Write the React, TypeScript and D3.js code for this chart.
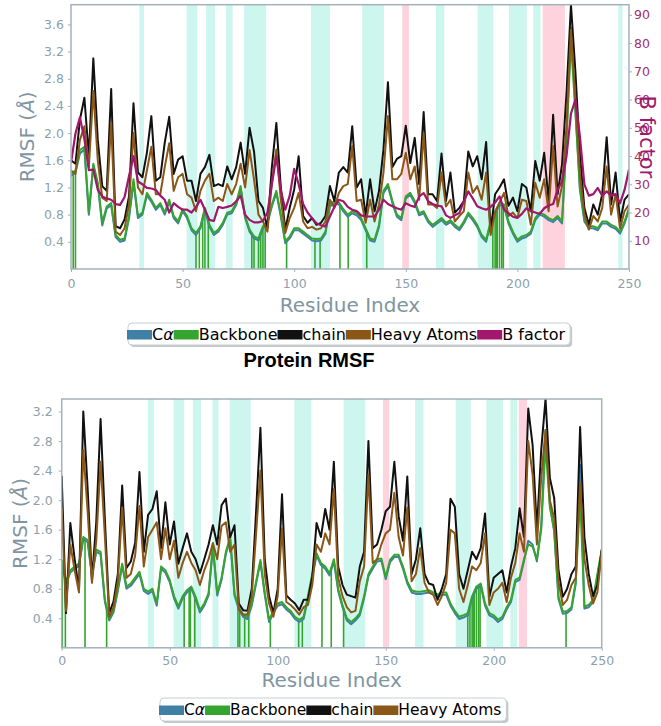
import React, { useEffect, useRef } from "react";
import * as d3 from "d3";

// residue positions of the sampled values (every 2nd residue)
const RESIDUES: number[] = d3.range(0, 251, 2);

// ---------- TOP PANEL ----------
const TOP_CA = [
  1.37,1.42,1.70,1.76,0.80,1.52,1.24,0.64,0.89,0.94,
  0.47,0.40,0.42,0.75,1.28,0.75,0.80,1.08,0.99,0.87,
  0.94,0.80,0.99,0.75,0.67,0.85,0.75,0.57,0.50,0.60,
  0.87,0.62,0.50,0.55,0.65,0.80,0.82,0.94,1.19,0.75,
  0.55,0.45,0.42,0.60,0.67,0.92,1.12,0.77,0.38,0.45,
  0.57,0.57,0.52,0.47,0.42,0.41,0.42,0.52,0.92,0.97,
  0.95,0.85,0.77,0.82,0.79,0.72,0.57,0.42,0.40,0.62,
  1.12,1.22,0.97,0.77,0.72,1.04,1.09,0.97,0.79,0.82,
  0.69,0.62,0.67,0.72,0.65,0.69,0.62,0.57,0.67,0.80,
  0.72,0.62,0.47,0.40,0.67,0.82,0.94,0.92,0.67,0.52,
  0.40,0.45,0.47,0.52,0.72,0.80,0.77,0.72,0.69,0.75,
  0.67,1.95,3.55,2.35,1.17,0.70,0.60,0.60,0.57,0.67,
  0.67,0.62,0.59,0.52,0.67,0.87,
];
const TOP_BACKBONE = [
  1.40,1.45,1.75,1.80,0.83,1.55,1.27,0.68,0.92,0.97,
  0.50,0.43,0.45,0.78,1.32,0.78,0.83,1.12,1.02,0.90,
  0.97,0.83,1.02,0.78,0.70,0.88,0.78,0.60,0.53,0.63,
  0.90,0.65,0.53,0.58,0.68,0.83,0.85,0.97,1.22,0.78,
  0.58,0.48,0.45,0.63,0.70,0.95,1.15,0.80,0.41,0.48,
  0.60,0.60,0.55,0.50,0.45,0.44,0.45,0.55,0.95,1.00,
  0.98,0.88,0.80,0.85,0.82,0.75,0.60,0.45,0.43,0.65,
  1.15,1.25,1.00,0.80,0.75,1.07,1.12,1.00,0.82,0.85,
  0.72,0.65,0.70,0.75,0.68,0.72,0.65,0.60,0.70,0.83,
  0.75,0.65,0.50,0.43,0.70,0.85,0.97,0.95,0.70,0.55,
  0.43,0.48,0.50,0.55,0.75,0.83,0.80,0.75,0.72,0.78,
  0.70,1.90,3.35,2.30,1.20,0.73,0.63,0.63,0.60,0.70,
  0.70,0.65,0.62,0.55,0.70,0.90,
];
const TOP_CHAIN = [
  1.60,1.55,2.20,2.52,1.66,3.10,1.90,1.22,1.15,2.65,
  0.63,0.60,0.73,1.07,2.44,1.42,1.35,1.71,2.25,1.30,
  1.35,1.86,2.24,1.40,1.61,1.66,1.30,1.30,1.00,1.40,
  1.50,1.68,1.22,1.25,1.22,1.51,1.32,1.50,1.86,1.40,
  2.08,1.73,1.00,0.90,0.60,1.50,2.15,1.20,0.58,0.90,
  1.17,1.66,0.78,0.68,0.75,0.65,0.68,0.78,1.22,1.00,
  1.42,1.50,1.42,2.10,1.20,1.32,0.78,1.32,0.85,1.15,
  1.76,2.75,1.50,1.62,1.66,2.11,1.56,1.93,1.25,2.31,
  1.10,1.10,1.00,1.70,1.00,1.42,0.83,0.90,1.00,1.73,
  1.51,1.66,1.32,1.87,0.55,1.10,1.20,1.32,0.93,1.05,
  0.85,1.25,1.20,0.85,1.59,1.30,1.71,1.00,2.27,1.10,
  1.54,2.59,3.89,2.90,1.70,0.90,0.65,0.95,0.80,1.10,
  1.94,0.95,1.42,0.70,1.02,1.10,
];
const TOP_HEAVY = [
  1.45,1.40,1.90,2.10,1.50,2.62,1.60,1.05,1.00,2.15,
  0.55,0.50,0.60,0.95,2.00,1.20,1.10,1.45,1.80,1.10,
  1.10,1.50,1.85,1.15,1.35,1.40,1.10,1.05,0.85,1.15,
  1.30,1.40,1.00,1.05,1.00,1.25,1.10,1.25,1.55,1.20,
  1.75,1.32,0.80,0.70,0.55,1.27,1.76,1.02,0.53,0.75,
  0.90,1.12,0.70,0.60,0.62,0.58,0.60,0.70,1.02,0.90,
  1.12,1.22,1.25,1.81,1.00,1.02,0.68,1.02,0.70,0.95,
  1.42,2.25,1.32,1.32,1.40,1.71,1.32,1.51,1.02,2.00,
  0.95,0.95,0.90,1.42,0.92,1.02,0.70,0.78,0.85,1.42,
  1.12,1.22,1.02,1.42,0.50,0.83,0.98,1.12,0.78,0.83,
  0.75,1.02,1.00,0.65,1.27,1.05,1.32,0.85,1.81,0.92,
  1.22,2.10,3.52,2.50,1.40,0.80,0.58,0.78,0.70,0.90,
  1.51,0.80,1.10,0.60,0.85,0.95,
];
const TOP_BFACTOR = [
  37.6,48,53.7,46,35,35.2,28.1,25.7,25,24.5,
  23,22.7,25.5,32.9,40,31,30,28.7,28.5,28,
  26,24.5,20,23.3,22,21,21,20,22,24.5,
  21,17.4,17,22,21.6,22,22.5,24,26,19.2,
  17.4,16.5,16.5,17,20,30,40,28,21,26,
  35.5,30,23,20,18,16.2,15.5,15,18.6,22,
  24.5,24,22,21,20.5,19,18.6,18.6,18.6,21,
  24.5,23,22.2,21.5,21,23.3,22.5,22,25.7,26.9,
  24,23,22.5,22.2,19,18.1,19,19.8,24,27.5,
  25,22.2,21.5,21,22,23.5,25.7,21,19.8,18.5,
  18.1,19.5,21.5,20.5,20,19.5,21.5,22.5,23,28.1,
  31,40,55,60,47,30,26,26.5,28.7,26,
  27.5,26,26.5,23.3,28,35.2,
];
const TOP_CYAN: [number, number][] = [
  [30.6, 32.7], [51.8, 56.6], [60.5, 64.6], [69.4, 72.4], [77.6, 87.4],
  [107.5, 116], [130.5, 140.2], [163.5, 167.3], [182.2, 189.2],
  [196.2, 204.2], [207.1, 210.4], [245.2, 247.1],
];
const TOP_PINK: [number, number][] = [[148.4, 151.4], [211.3, 221.3]];
const TOP_CONTACTS = [1, 2, 56, 57.5, 59, 60, 61.5, 81, 82, 84, 85, 86, 87, 96.6, 109.3, 111.6, 120.5, 124.2, 132.5, 189, 190, 190.5, 191, 192, 193, 193.7];

// ---------- BOTTOM PANEL ----------
const BOT_CA = [
  1.16,0.87,1.02,1.07,1.11,1.47,1.43,0.97,1.30,1.27,
  0.62,0.37,0.48,0.77,1.11,0.80,0.84,0.92,1.00,0.77,
  0.73,0.77,0.57,1.07,1.02,0.89,0.67,0.53,0.67,0.75,
  0.80,0.66,0.48,0.57,0.71,1.36,0.71,0.92,1.27,1.47,
  0.71,0.52,0.42,0.39,0.57,0.87,1.16,0.72,0.35,0.47,
  0.57,0.59,0.52,0.47,0.39,0.35,0.39,0.67,0.97,1.25,
  1.12,1.07,0.98,1.17,0.77,0.55,0.37,0.32,0.37,0.44,
  0.67,0.97,1.07,1.17,1.18,0.93,1.16,1.23,1.23,1.07,
  0.87,0.75,0.73,0.73,0.74,0.75,0.72,0.69,0.72,0.72,
  0.57,0.47,0.39,0.41,0.44,0.67,0.80,0.84,0.57,0.44,
  0.41,0.35,0.39,0.52,0.62,0.89,0.92,1.17,1.45,1.40,
  1.17,1.65,2.95,1.95,1.57,0.66,0.46,0.47,0.52,0.87,
  2.48,0.53,0.55,0.62,0.97,1.30,
];
const BOT_BACKBONE = [
  1.19,0.90,1.05,1.10,1.14,1.50,1.46,1.00,1.33,1.30,
  0.65,0.40,0.51,0.80,1.14,0.83,0.87,0.95,1.03,0.80,
  0.76,0.80,0.60,1.10,1.05,0.92,0.70,0.56,0.70,0.78,
  0.83,0.69,0.51,0.60,0.74,1.39,0.74,0.95,1.30,1.50,
  0.74,0.55,0.45,0.42,0.60,0.90,1.19,0.75,0.38,0.50,
  0.60,0.62,0.55,0.50,0.42,0.38,0.42,0.70,1.00,1.28,
  1.15,1.10,1.01,1.20,0.80,0.58,0.40,0.35,0.40,0.47,
  0.70,1.00,1.10,1.20,1.21,0.96,1.19,1.26,1.26,1.10,
  0.90,0.78,0.76,0.76,0.77,0.78,0.75,0.72,0.75,0.75,
  0.60,0.50,0.42,0.44,0.47,0.70,0.83,0.87,0.60,0.47,
  0.44,0.38,0.42,0.55,0.65,0.92,0.95,1.20,1.40,1.37,
  1.20,1.60,2.75,1.90,1.60,0.69,0.49,0.50,0.55,0.90,
  2.05,0.56,0.58,0.65,1.00,1.33,
];
const BOT_CHAIN = [
  2.33,0.47,1.69,1.20,0.78,3.20,2.16,0.92,1.70,3.10,
  1.73,0.47,0.63,1.00,2.20,1.08,1.17,1.42,2.38,1.30,
  1.80,1.88,2.12,1.35,1.97,1.40,1.71,1.14,1.35,1.55,
  1.30,1.20,1.01,1.20,1.40,1.66,1.40,1.93,2.02,1.50,
  1.66,0.60,0.51,0.50,0.80,1.85,2.98,1.20,0.70,0.47,
  0.80,2.08,0.71,0.65,0.60,0.51,0.65,0.65,0.96,1.69,
  1.50,1.88,1.60,2.52,1.10,0.85,0.72,0.70,0.68,1.10,
  1.30,2.80,1.35,1.40,1.60,1.85,1.91,2.52,1.78,1.45,
  2.32,1.00,1.20,1.62,1.00,0.87,0.85,0.65,0.80,1.00,
  2.02,1.91,1.00,0.80,1.05,1.30,1.20,1.35,1.82,0.69,
  0.95,1.00,1.05,0.75,1.10,1.35,1.89,1.50,3.24,2.75,
  1.60,2.68,3.37,2.30,2.03,1.05,0.69,0.80,1.00,1.10,
  2.99,1.50,1.00,0.70,0.85,1.33,
];
const BOT_HEAVY = [
  1.90,0.50,1.40,1.05,0.75,2.68,1.85,0.88,1.45,2.52,
  1.50,0.42,0.55,0.90,1.90,0.95,1.00,1.25,1.92,1.10,
  1.50,1.60,1.70,1.20,1.62,1.20,1.45,0.95,1.15,1.30,
  1.15,1.05,0.85,1.05,1.20,1.42,1.20,1.65,1.70,1.30,
  1.40,0.52,0.45,0.45,0.70,1.55,2.40,1.00,0.60,0.42,
  0.70,1.62,0.62,0.58,0.52,0.45,0.55,0.58,0.85,1.40,
  1.30,1.55,1.40,2.15,0.95,0.70,0.55,0.48,0.50,0.90,
  1.10,2.35,1.15,1.20,1.40,1.55,1.60,2.10,1.50,1.25,
  1.90,0.90,1.00,1.35,0.88,0.75,0.72,0.58,0.70,0.88,
  1.60,1.55,0.80,0.62,0.85,1.10,1.05,1.15,1.55,0.58,
  0.75,0.80,0.88,0.62,0.95,1.15,1.55,1.30,2.80,2.35,
  1.40,2.30,2.95,2.00,1.75,0.90,0.58,0.65,0.85,0.95,
  2.23,1.20,0.85,0.60,0.75,1.30,
];
const BOT_CYAN: [number, number][] = [
  [39.9, 42.7], [51.8, 56.7], [60.7, 64.5], [69.8, 72.6], [77.8, 87.5],
  [107.7, 115.6], [130.5, 140.5], [163.6, 167.5], [182.4, 189.4],
  [196.6, 204.3], [207.7, 210.8],
];
const BOT_PINK: [number, number][] = [[148.7, 151.6], [211.6, 215.4]];
const BOT_CONTACTS = [0.3, 1.7, 10.8, 20.8, 56.7, 59, 59.6, 61.6, 81.6, 82.4, 84.7, 86.6, 96.6, 109.7, 111.4, 120.5, 124.8, 130.5, 188, 189, 190, 190.5, 191, 192, 193, 193.7, 233.5];

const X_TICKS = [0, 50, 100, 150, 200, 250];
const TOP_Y_TICKS = [0.4, 0.8, 1.2, 1.6, 2.0, 2.4, 2.8, 3.2, 3.6];
const BOT_Y_TICKS = [0.4, 0.8, 1.2, 1.6, 2.0, 2.4, 2.8, 3.2];
const B_TICKS = [10, 20, 30, 40, 50, 60, 70, 80, 90];

const TITLE = "Protein RMSF";
const LEGEND_TOP = ["Cα", "Backbone", "chain", "Heavy Atoms", "B factor"];
const LEGEND_BOT = ["Cα", "Backbone", "chain", "Heavy Atoms"];

const C_CA = "#3f80a6";
const C_BB = "#36a52f";
const C_CHAIN = "#111111";
const C_HEAVY = "#8a5717";
const C_BF = "#a0176b";
const C_CYAN = "#cdf6ef";
const C_PINK = "#ffd3dd";
const C_AXIS = "#a3b1bb";
const C_TICK = "#8d9fab";
const C_LABEL = "#8095a2";
const FONT = "DejaVu Sans, sans-serif";

type Panel = {
  id: string;
  left: number; right: number; top: number; bottom: number;
  yMax: number;
  yTicks: number[];
  ca: number[]; bb: number[]; chain: number[]; heavy: number[];
  bf?: number[]; bMax?: number;
  cyan: [number, number][]; pink: [number, number][];
  contacts: number[];
  yPad: number; xPad: number;
  yLabelX: number; xLabelY: number;
};

function drawPanel(svg: d3.Selection<SVGSVGElement, unknown, null, undefined>, p: Panel) {
  const x = d3.scaleLinear().domain([0, 250]).range([p.left, p.right]);
  const y = d3.scaleLinear().domain([0, p.yMax]).range([p.bottom, p.top]);
  const g = svg.append("g");

  g.append("clipPath").attr("id", "clip-" + p.id)
    .append("rect").attr("x", p.left).attr("y", p.top)
    .attr("width", p.right - p.left).attr("height", p.bottom - p.top);

  const body = g.append("g").attr("clip-path", `url(#clip-${p.id})`);

  body.selectAll("rect.cyan").data(p.cyan).enter().append("rect")
    .attr("x", d => x(d[0])).attr("width", d => x(d[1]) - x(d[0]))
    .attr("y", p.top).attr("height", p.bottom - p.top).attr("fill", C_CYAN);
  body.selectAll("rect.pink").data(p.pink).enter().append("rect")
    .attr("x", d => x(d[0])).attr("width", d => x(d[1]) - x(d[0]))
    .attr("y", p.top).attr("height", p.bottom - p.top).attr("fill", C_PINK);

  const bbAt = d3.scaleLinear().domain(RESIDUES).range(p.bb);
  body.selectAll("line.contact").data(p.contacts).enter().append("line")
    .attr("x1", d => x(d)).attr("x2", d => x(d))
    .attr("y1", y(0)).attr("y2", d => y(bbAt(d)))
    .attr("stroke", C_BB).attr("stroke-width", 1.6);

  const line = (vals: number[], color: string, w: number) => {
    const gen = d3.line<number>().x((_, i) => x(RESIDUES[i])).y(v => y(v));
    body.append("path").datum(vals).attr("d", gen).attr("fill", "none")
      .attr("stroke", color).attr("stroke-width", w).attr("stroke-linejoin", "round");
  };
  line(p.ca, C_CA, 2);
  line(p.bb, C_BB, 2);
  line(p.chain, C_CHAIN, 2);
  line(p.heavy, C_HEAVY, 2);

  let yb: d3.ScaleLinear<number, number> | null = null;
  if (p.bf && p.bMax) {
    yb = d3.scaleLinear().domain([0, p.bMax]).range([p.bottom, p.top]);
    const gen = d3.line<number>().x((_, i) => x(RESIDUES[i])).y(v => yb!(v));
    body.append("path").datum(p.bf).attr("d", gen).attr("fill", "none")
      .attr("stroke", C_BF).attr("stroke-width", 2.2).attr("stroke-linejoin", "round");
  }

  // frame
  g.append("rect").attr("x", p.left).attr("y", p.top)
    .attr("width", p.right - p.left).attr("height", p.bottom - p.top)
    .attr("fill", "none").attr("stroke", C_AXIS).attr("stroke-width", 1.5);

  const style = (ax: d3.Selection<SVGGElement, unknown, null, undefined>, color: string) => {
    ax.select(".domain").remove();
    ax.selectAll("line").attr("stroke", C_AXIS).attr("stroke-width", 1);
    ax.selectAll("text").attr("fill", color).attr("font-size", 12.5).attr("font-family", FONT);
  };

  const ax = g.append("g").attr("transform", `translate(0,${p.bottom})`)
    .call(d3.axisBottom(x).tickValues(X_TICKS).tickFormat(d3.format("d")).tickSize(3).tickPadding(p.xPad));
  style(ax, C_TICK);
  const ay = g.append("g").attr("transform", `translate(${p.left},0)`)
    .call(d3.axisLeft(y).tickValues(p.yTicks).tickFormat(d3.format(".1f")).tickSize(3).tickPadding(p.yPad));
  style(ay, C_TICK);

  if (yb) {
    const ar = g.append("g").attr("transform", `translate(${p.right},0)`)
      .call(d3.axisRight(yb).tickValues(B_TICKS).tickFormat(d3.format("d")).tickSize(3).tickPadding(2));
    style(ar, "#a2306c");
    g.append("text").attr("transform", `translate(${p.right + 11},${(p.top + p.bottom) / 2}) rotate(90)`)
      .attr("text-anchor", "middle").attr("font-family", FONT).attr("font-size", 21)
      .attr("fill", C_BF).text("B factor");
  }

  // axis labels
  const yl = g.append("text")
    .attr("transform", `translate(${p.yLabelX},${(p.top + p.bottom) / 2}) rotate(-90)`)
    .attr("text-anchor", "middle").attr("font-family", FONT).attr("font-size", 20).attr("fill", C_LABEL);
  yl.append("tspan").text("RMSF (");
  yl.append("tspan").attr("font-style", "italic").text("Å");
  yl.append("tspan").text(")");

  g.append("text").attr("x", (p.left + p.right) / 2).attr("y", p.xLabelY)
    .attr("text-anchor", "middle").attr("font-family", FONT).attr("font-size", 20)
    .attr("fill", C_LABEL).text("Residue Index");
}

function drawLegend(svg: d3.Selection<SVGSVGElement, unknown, null, undefined>,
  labels: string[], colors: string[], x0: number, y0: number, h: number, fs: number) {
  const g = svg.append("g");
  const shadow = g.append("rect");
  const box = g.append("rect");
  let cx = x0 - 1;
  const base = y0 + h / 2 + 5.5;
  labels.forEach((lab, i) => {
    g.append("rect").attr("x", cx).attr("y", base - 9.5).attr("width", 25).attr("height", 9.5)
      .attr("fill", colors[i]);
    cx += 25;
    const t = g.append("text").attr("x", cx).attr("y", base)
      .attr("font-family", FONT).attr("font-size", fs).attr("fill", "#000");
    if (lab === "Cα") {
      t.append("tspan").text("C");
      t.append("tspan").attr("font-style", "italic").text("α");
    } else {
      t.text(lab);
    }
    const w = (t.node() as SVGTextElement).getComputedTextLength();
    cx += w;
  });
  const w = cx + 5 - x0;
  shadow.attr("x", x0 + 2).attr("y", y0 + 2).attr("width", w).attr("height", h)
    .attr("rx", 4).attr("fill", "#9aa2a8").attr("opacity", 0.6);
  box.attr("x", x0).attr("y", y0).attr("width", w).attr("height", h)
    .attr("rx", 4).attr("fill", "#fff").attr("stroke", "#c9cfd4").attr("stroke-width", 1);
}

export default function App() {
  const ref = useRef<SVGSVGElement>(null);
  useEffect(() => {
    const svg = d3.select(ref.current as SVGSVGElement);
    svg.selectAll("*").remove();
    svg.append("rect").attr("width", 661).attr("height", 726).attr("fill", "#fff");

    drawPanel(svg, {
      id: "top", left: 71, right: 629, top: 4.7, bottom: 269,
      yMax: 3.89, yTicks: TOP_Y_TICKS,
      ca: TOP_CA, bb: TOP_BACKBONE, chain: TOP_CHAIN, heavy: TOP_HEAVY,
      bf: TOP_BFACTOR, bMax: 93.6,
      cyan: TOP_CYAN, pink: TOP_PINK, contacts: TOP_CONTACTS,
      yPad: 4, xPad: 7, yLabelX: 34, xLabelY: 312,
    });
    drawPanel(svg, {
      id: "bot", left: 61.7, right: 601.7, top: 399, bottom: 647.8,
      yMax: 3.37, yTicks: BOT_Y_TICKS,
      ca: BOT_CA, bb: BOT_BACKBONE, chain: BOT_CHAIN, heavy: BOT_HEAVY,
      cyan: BOT_CYAN, pink: BOT_PINK, contacts: BOT_CONTACTS,
      yPad: 6, xPad: 5, yLabelX: 27, xLabelY: 687,
    });

    drawLegend(svg, LEGEND_TOP, [C_CA, C_BB, C_CHAIN, C_HEAVY, C_BF], 128, 323, 22, 16);
    drawLegend(svg, LEGEND_BOT, [C_CA, C_BB, C_CHAIN, C_HEAVY], 160, 698, 23, 15.5);

    svg.append("text").attr("x", 309).attr("y", 367).attr("text-anchor", "middle")
      .attr("font-family", "Liberation Sans, Arial, sans-serif").attr("font-weight", "bold")
      .attr("font-size", 20).attr("fill", "#000").text(TITLE);
  }, []);
  return (
    <svg ref={ref} width={661} height={726}
      style={{ position: "absolute", left: 0, top: 0, display: "block" }} />
  );
}
